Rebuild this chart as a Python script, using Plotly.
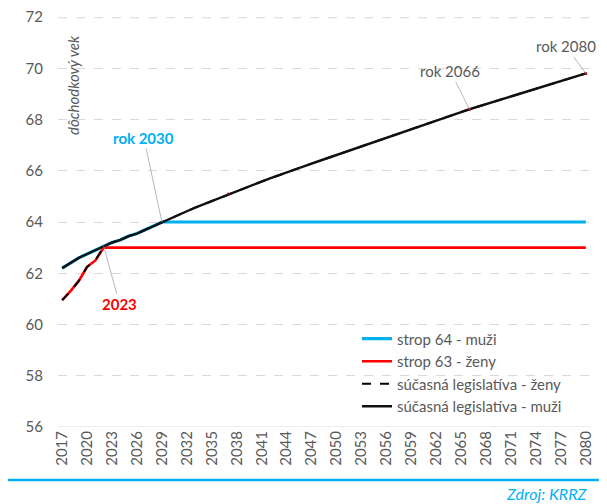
import plotly.graph_objects as go

years = list(range(2017, 2081))

# súčasná legislatíva - muži
men = [62.2, 62.4, 62.6, 62.75, 62.9, 63.05, 63.2, 63.3, 63.45, 63.55,
       63.7, 63.85, 64.0, 64.14, 64.28, 64.42, 64.56, 64.69, 64.83, 64.96,
       65.09, 65.21, 65.34, 65.46, 65.58, 65.70, 65.82, 65.94, 66.05, 66.17,
       66.28, 66.39, 66.50, 66.61, 66.72, 66.84, 66.95, 67.06, 67.17, 67.28,
       67.40, 67.51, 67.62, 67.73, 67.84, 67.95, 68.06, 68.17, 68.29, 68.40,
       68.50, 68.60, 68.70, 68.80, 68.90, 69.00, 69.10, 69.20, 69.30, 69.40,
       69.50, 69.60, 69.70, 69.80]

# súčasná legislatíva - ženy
women = [60.95, 61.3, 61.7, 62.25, 62.5, 63.05, 63.2, 63.3, 63.45, 63.55,
         63.7, 63.85, 64.0, 64.14, 64.28, 64.42, 64.56, 64.69, 64.83, 64.96,
         65.09, 65.21, 65.34, 65.46, 65.58, 65.70, 65.82, 65.94, 66.05, 66.17,
         66.28, 66.39, 66.50, 66.61, 66.72, 66.84, 66.95, 67.06, 67.17, 67.28,
         67.40, 67.51, 67.62, 67.73, 67.84, 67.95, 68.06, 68.17, 68.29, 68.40,
         68.50, 68.60, 68.70, 68.80, 68.90, 69.00, 69.10, 69.20, 69.30, 69.40,
         69.50, 69.60, 69.70, 69.80]

# strop 64 - muži
cap_men = [62.2, 62.4, 62.6, 62.75, 62.9, 63.05, 63.2, 63.3, 63.45, 63.55,
           63.7, 63.85] + [64.0] * 52

# strop 63 - ženy
cap_women = [60.95, 61.3, 61.7, 62.25, 62.5] + [63.0] * 59

x_ticks = list(range(2017, 2081, 3))
y_ticks = [56, 58, 60, 62, 64, 66, 68, 70, 72]

GRAY = "#595959"
BLUE = "#00B0F0"
RED = "#FF0000"
FONT = "Lato"

fig = go.Figure()
fig.add_trace(go.Scatter(x=years, y=cap_men, mode="lines", name="strop 64 - muži",
                         line=dict(color=BLUE, width=3.2)))
fig.add_trace(go.Scatter(x=years, y=cap_women, mode="lines", name="strop 63 - ženy",
                         line=dict(color=RED, width=2.6)))
fig.add_trace(go.Scatter(x=years, y=women, mode="lines", name="súčasná legislatíva - ženy",
                         line=dict(color="#000000", width=2, dash="dash")))
fig.add_trace(go.Scatter(x=years, y=men, mode="lines", name="súčasná legislatíva - muži",
                         line=dict(color="#111111", width=2.4)))

# small data-label points
pts = [2037, 2066, 2080]
fig.add_trace(go.Scatter(x=pts, y=[men[y - 2017] for y in pts], mode="markers",
                         showlegend=False, marker=dict(color="#7a1010", size=3)))

ann = [
    dict(x=2029, y=men[2029 - 2017], ax=-18, ay=-84, text="<b>rok 2030</b>",
         font=dict(color=BLUE, size=15, family=FONT)),
    dict(x=2022, y=men[2022 - 2017], ax=16, ay=58, text="<b>2023</b>",
         font=dict(color=RED, size=15, family=FONT)),
    dict(x=2066, y=men[2066 - 2017], ax=-19, ay=-38, text="rok 2066",
         font=dict(color=GRAY, size=15, family=FONT)),
    dict(x=2080, y=men[2080 - 2017], ax=-20, ay=-27, text="rok 2080",
         font=dict(color=GRAY, size=15, family=FONT)),
]
for a in ann:
    fig.add_annotation(showarrow=True, arrowhead=0, arrowwidth=0.8,
                       arrowcolor="#A6A6A6", standoff=0, xref="x", yref="y", **a)

fig.add_annotation(xref="paper", yref="paper", x=0.028, y=0.834, text="<i>dôchodkový vek</i>",
                   textangle=-90, showarrow=False, font=dict(color=GRAY, size=15, family=FONT),
                   xanchor="center", yanchor="middle")
fig.add_annotation(xref="paper", yref="paper", x=0.998, y=-0.161, text="<i>Zdroj: KRRZ</i>",
                   showarrow=False, font=dict(color=BLUE, size=16, family=FONT),
                   xanchor="right", yanchor="middle")

fig.add_shape(type="line", xref="paper", yref="paper", x0=-0.12, x1=1.05,
              y0=-0.129, y1=-0.129, line=dict(color=BLUE, width=2.5))

fig.update_layout(
    width=599, height=496,
    margin=dict(l=50, r=17, t=9, b=77, autoexpand=False),
    paper_bgcolor="white", plot_bgcolor="white",
    font=dict(family=FONT, color=GRAY, size=14),
    legend=dict(x=0.562, y=0.255, xanchor="left", yanchor="top",
                bgcolor="rgba(0,0,0,0)", font=dict(size=15, color=GRAY, family=FONT),
                tracegroupgap=0, itemwidth=30),
    xaxis=dict(range=[2016.5, 2080.5], tickmode="array", tickvals=x_ticks,
               ticktext=[str(v) for v in x_ticks], tickangle=-90, showgrid=False,
               zeroline=False, showline=False, ticks="", tickfont=dict(size=15, color=GRAY),
               ticklabeloverflow="allow", automargin=False),
    yaxis=dict(range=[56, 72], tickmode="array", tickvals=y_ticks, showgrid=True,
               gridcolor="#D9D9D9", griddash="dash", gridwidth=1, zeroline=False,
               showline=False, ticks="", ticklabelstandoff=14,
               tickfont=dict(size=15, color=GRAY), ticklabeloverflow="allow",
               automargin=False),
)
fig.add_shape(type="line", xref="paper", yref="y", x0=0, x1=1, y0=56, y1=56,
              line=dict(color="#D9D9D9", width=1.2), layer="below")
fig.add_shape(type="line", xref="paper", yref="y", x0=0, x1=1, y0=71.97, y1=71.97,
              line=dict(color="#D9D9D9", width=1, dash="dash"), layer="below")

fig.write_html("out.html")
